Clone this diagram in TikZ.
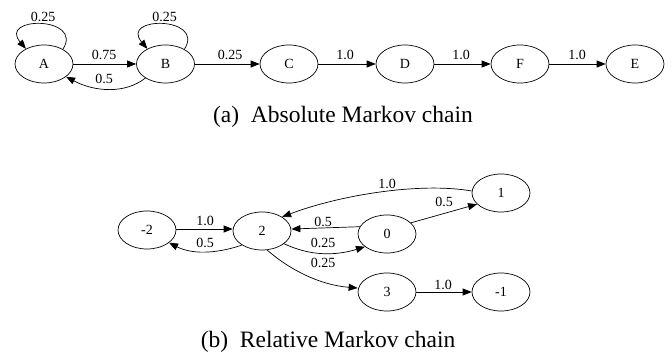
\documentclass[tikz,border=0pt]{standalone}
\usepackage{fontspec}
\setmainfont{Liberation Serif}
\usetikzlibrary{shapes.geometric,arrows.meta}
\tikzset{
  st/.style={draw, ellipse, minimum width=58pt, minimum height=38pt, inner sep=0pt, line width=0.7pt, font=\fontsize{14}{14}\selectfont},
  arr/.style={-{Triangle[length=9pt,width=7pt]}, line width=0.7pt},
  lab/.style={inner sep=0pt, font=\fontsize{14}{14}\selectfont},
  captext/.style={inner sep=0pt, font=\fontsize{23.5}{23.5}\selectfont}
}
\begin{document}
\begin{tikzpicture}[x=1pt,y=-1pt]
\useasboundingbox (0,0) rectangle (672,352);
% top chain
\node[st] (A) at (44,64) {A};
\node[st] (B) at (165.5,64) {B};
\node[st] (C) at (289,64) {C};
\node[st] (D) at (405,64) {D};
\node[st] (F) at (520,64) {F};
\node[st] (E) at (635,64) {E};
\draw[arr] (A.38) .. controls (84,16) and (-2,16) .. (A.140);
\draw[arr] (B.38) .. controls (205.5,16) and (119.5,16) .. (B.140);
\draw[arr] (A) -- (B);
\draw[arr] (B.-145) .. controls (125,94) and (95,92) .. (A.-30);
\draw[arr] (B) -- (C);
\draw[arr] (C) -- (D);
\draw[arr] (D) -- (F);
\draw[arr] (F) -- (E);
\node[lab] (lA) at (43,17) {0.25};
\node[lab] (lB) at (164.5,17) {0.25};
\node[lab] (lAB) at (104,55) {0.75};
\node[lab] (lBA) at (104,79) {0.5};
\node[lab] (lBC) at (230,55) {0.25};
\node[lab] (lCD) at (345,55) {1.0};
\node[lab] (lDF) at (461,55) {1.0};
\node[lab] (lFE) at (577,55) {1.0};
\node[captext] (capa) at (343,117) {(a)\ \ Absolute Markov chain};
% bottom chain
\node[st] (m2) at (147,230) {-2};
\node[st] (n2) at (262,231) {2};
\node[st] (n0) at (387,234) {0};
\node[st] (n1) at (501,193) {1};
\node[st] (n3) at (387,292) {3};
\node[st] (m1) at (501,292) {-1};
\draw[arr] (m2.east |- 0,229) -- (n2.west |- 0,229);
\draw[arr] (n2.-145) .. controls (222,252) and (195,256) .. (m2.-30);
\draw[arr] (n0.165) -- (n2.east |- 0,229);
\draw[arr] (n2.-30) .. controls (310,256) and (335,256) .. (n0.-150);
\draw[arr] (n2.-75) .. controls (290,270) and (320,285) .. (n3.west |- 0,288);
\draw[arr] (n1.west |- 0,191) .. controls (420,182) and (340,195) .. (n2.35);
\draw[arr] (n0.25) -- (n1.-155);
\draw[arr] (n3) -- (m1);
\node[lab] (l12) at (387,184) {1.0};
\node[lab] (l01) at (444,202) {0.5};
\node[lab] (lm22) at (205,221) {1.0};
\node[lab] (l2m2) at (205,243) {0.5};
\node[lab] (l02) at (323,222) {0.5};
\node[lab] (l20) at (323,243) {0.25};
\node[lab] (l23) at (323,263) {0.25};
\node[lab] (l3m1) at (443,285) {1.0};
\node[captext] (capb) at (328,342) {(b)\ \ Relative Markov chain};
\end{tikzpicture}
\end{document}
